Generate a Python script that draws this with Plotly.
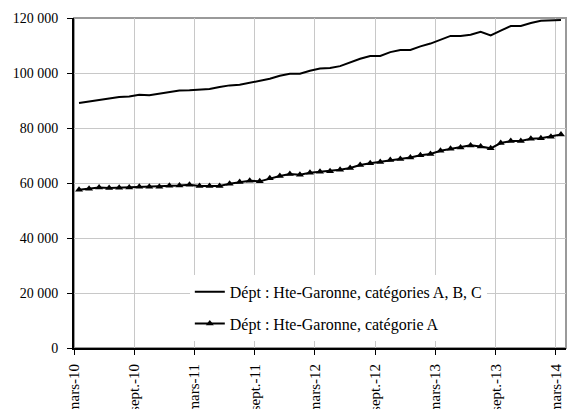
import plotly.graph_objects as go

# Monthly series, mars-10 .. mars-14 (49 months)
abc_values = [
    89100, 89700, 90300, 90900, 91300, 91500, 92100, 91900, 92500, 93200,
    93600, 93700, 93900, 94200, 94900, 95500, 95700, 96400, 97200, 97900,
    99000, 99700, 99700, 100800, 101600, 101800, 102500, 103900, 105200, 106200,
    106200, 107600, 108400, 108400, 109700, 110700, 112000, 113500, 113500, 113900,
    115000, 113700, 115400, 117100, 117100, 118200, 119000, 119100, 119300,
]
a_values = [
    57560, 57900, 58400, 58200, 58300, 58400, 58650, 58650, 58650, 59000,
    59100, 59400, 58900, 58900, 58900, 59750, 60360, 60840, 60600, 61700,
    62550, 63270, 63000, 63750, 64100, 64250, 64850, 65450, 66550, 67150,
    67650, 68360, 68700, 69300, 70050, 70550, 71750, 72470, 72950, 73680,
    73300, 72600, 74540, 75270, 75270, 76100, 76250, 76840, 77670,
]
series_names = [
    "Dépt : Hte-Garonne, catégories A, B, C",
    "Dépt : Hte-Garonne, catégorie A",
]
x_tick_labels = ["mars-10", "sept.-10", "mars-11", "sept.-11", "mars-12",
                 "sept.-12", "mars-13", "sept.-13", "mars-14"]
x_tick_months = [0, 6, 12, 18, 24, 30, 36, 42, 48]
y_tick_values = [0, 20000, 40000, 60000, 80000, 100000, 120000]
y_tick_labels = ["0", "20 000", "40 000", "60 000", "80 000", "100 000", "120 000"]

# points sit in the middle of their month
months = [i + 0.5 for i in range(len(abc_values))]

FONT = "Liberation Serif"

fig = go.Figure()
fig.add_trace(go.Scatter(
    x=months, y=abc_values, name=series_names[0], mode="lines",
    line=dict(color="black", width=2), legendgroup="g1",
))
fig.add_trace(go.Scatter(
    x=months, y=a_values, name=series_names[1], mode="lines+markers",
    line=dict(color="black", width=2),
    marker=dict(symbol="triangle-up", size=7, color="black"),
    legendgroup="g2",
))

fig.add_shape(type="rect", xref="paper", yref="paper", x0=0, y0=0, x1=1, y1=1,
              line=dict(color="#9a9a9a", width=2), layer="below")

fig.update_layout(
    template="none",
    width=567, height=409,
    margin=dict(l=74, r=1, t=18, b=61),
    paper_bgcolor="white", plot_bgcolor="white",
    font=dict(family=FONT, size=15, color="black"),
    showlegend=True,
    legend=dict(
        x=0.2354, y=0.222, xanchor="left", yanchor="top",
        bgcolor="white", borderwidth=0,
        traceorder="grouped", tracegroupgap=8,
        font=dict(family=FONT, size=16, color="black"),
    ),
    xaxis=dict(
        range=[0, 49], tickmode="array", tickvals=x_tick_months, ticktext=x_tick_labels,
        tickangle=-90, ticks="outside", ticklen=5, tickcolor="black", tickwidth=1,
        showgrid=True, gridcolor="#c8c8c8", gridwidth=1,
        showline=True, linecolor="black", linewidth=2, zeroline=False,
        automargin=False, ticklabelstandoff=3,
        tickfont=dict(family=FONT, size=15, color="black"),
    ),
    yaxis=dict(
        range=[0, 120000], tickmode="array", tickvals=y_tick_values, ticktext=y_tick_labels,
        ticks="outside", ticklen=5, tickcolor="black", tickwidth=1,
        showgrid=True, gridcolor="#c8c8c8", gridwidth=1,
        showline=True, linecolor="black", linewidth=2, zeroline=False,
        automargin=False, ticklabelstandoff=6,
        tickfont=dict(family=FONT, size=14, color="black"),
    ),
)

fig.write_html("out.html", config={"displayModeBar": False},
               post_script="document.body.style.margin='0';")
